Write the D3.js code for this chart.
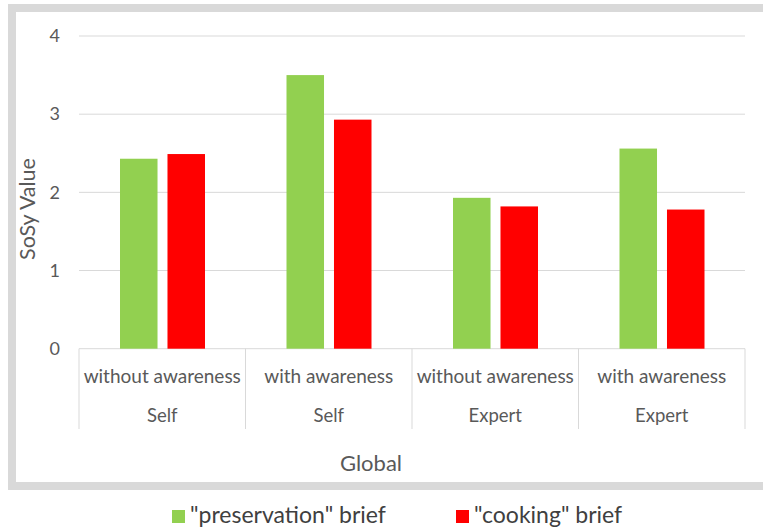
<!DOCTYPE html>
<html>
<head>
<meta charset="utf-8">
<script src="https://cdn.jsdelivr.net/npm/d3@7"></script>
<style>
  html, body { margin: 0; padding: 0; background: #fff; }
  svg { display: block; font-family: Lato, "Open Sans", sans-serif; }
</style>
</head>
<body>
<svg id="chart" width="763" height="532"></svg>
<script>
// Chart data
const conditions = ["without awareness", "with awareness", "without awareness", "with awareness"];
const raters = ["Self", "Self", "Expert", "Expert"];
const seriesNames = ["\"preservation\" brief", "\"cooking\" brief"];
const preservationValues = [2.43, 3.50, 1.93, 2.56];
const cookingValues = [2.49, 2.93, 1.82, 1.78];
const yTicks = [0, 1, 2, 3, 4];
const colors = ["#92d050", "#ff0000"];

const groups = conditions.map((c, i) => ({
  key: i,
  condition: c,
  rater: raters[i],
  values: [preservationValues[i], cookingValues[i]]
}));

const svg = d3.select("#chart");

// Outer frame
svg.append("rect")
  .attr("x", 12).attr("y", 8)
  .attr("width", 780).attr("height", 478)
  .attr("fill", "#fff")
  .attr("stroke", "#d9d9d9")
  .attr("stroke-width", 8);

const plot = { left: 79, right: 745, top: 36, bottom: 348.7 };

const x0 = d3.scaleBand()
  .domain(groups.map(g => g.key))
  .range([plot.left, plot.right])
  .padding(0);

const x1 = d3.scaleBand()
  .domain([0, 1])
  .range([41, 126])
  .paddingInner(0.21);

const y = d3.scaleLinear()
  .domain([0, 4])
  .range([plot.bottom, plot.top]);

// Horizontal gridlines
svg.append("g")
  .selectAll("line")
  .data(yTicks)
  .join("line")
  .attr("x1", plot.left).attr("x2", plot.right)
  .attr("y1", d => y(d)).attr("y2", d => y(d))
  .attr("stroke", "#d9d9d9")
  .attr("stroke-width", 1);

// Y axis tick labels
const yAxis = d3.axisLeft(y).tickValues(yTicks).tickFormat(d3.format("d")).tickSize(0).tickPadding(0);
svg.append("g")
  .attr("transform", "translate(60,0)")
  .call(yAxis)
  .call(g => g.select(".domain").remove())
  .call(g => g.selectAll("text")
    .attr("x", 0)
    .attr("text-anchor", "end")
    .attr("font-family", "Lato, sans-serif")
    .attr("font-size", 18)
    .attr("fill", "#595959"));

// Bars
const gBars = svg.append("g")
  .selectAll("g")
  .data(groups)
  .join("g")
  .attr("transform", d => `translate(${x0(d.key)},0)`);

gBars.selectAll("rect")
  .data(d => d.values.map((v, i) => ({ v, i })))
  .join("rect")
  .attr("x", d => x1(d.i))
  .attr("width", x1.bandwidth())
  .attr("y", d => y(d.v))
  .attr("height", d => y(0) - y(d.v))
  .attr("fill", d => colors[d.i]);

// Category separators (multi-level axis)
const sepX = groups.map(g => x0(g.key)).concat([plot.right]);
svg.append("g")
  .selectAll("line")
  .data(sepX)
  .join("line")
  .attr("x1", d => d).attr("x2", d => d)
  .attr("y1", plot.bottom).attr("y2", 429)
  .attr("stroke", "#d9d9d9")
  .attr("stroke-width", 1);

// Category labels
const labels = svg.append("g")
  .attr("font-family", "Lato, sans-serif")
  .attr("fill", "#595959")
  .attr("text-anchor", "middle");

labels.selectAll("text.cond")
  .data(groups)
  .join("text")
  .attr("class", "cond")
  .attr("x", d => x0(d.key) + x0.bandwidth() / 2)
  .attr("y", 383)
  .attr("font-size", 19)
  .text(d => d.condition);

labels.selectAll("text.rater")
  .data(groups)
  .join("text")
  .attr("class", "rater")
  .attr("x", d => x0(d.key) + x0.bandwidth() / 2)
  .attr("y", 422)
  .attr("font-size", 18.5)
  .text(d => d.rater);

// Axis titles
svg.append("text")
  .attr("x", 371).attr("y", 471)
  .attr("text-anchor", "middle")
  .attr("font-family", "Lato, sans-serif")
  .attr("font-size", 22)
  .attr("fill", "#595959")
  .text("Global");

svg.append("text")
  .attr("transform", "translate(35,209) rotate(-90)")
  .attr("text-anchor", "middle")
  .attr("font-family", "Lato, sans-serif")
  .attr("font-size", 21.5)
  .attr("fill", "#595959")
  .text("SoSy Value");

// Legend
const legendX = [172, 456];
const legend = svg.append("g")
  .selectAll("g")
  .data(seriesNames)
  .join("g")
  .attr("transform", (d, i) => `translate(${legendX[i]},510)`);

legend.append("rect")
  .attr("width", 13).attr("height", 13)
  .attr("fill", (d, i) => colors[i]);

legend.append("text")
  .attr("x", 18).attr("y", 13)
  .attr("font-family", "Lato, sans-serif")
  .attr("font-size", 23)
  .attr("fill", "#404040")
  .text(d => d);
</script>
</body>
</html>
